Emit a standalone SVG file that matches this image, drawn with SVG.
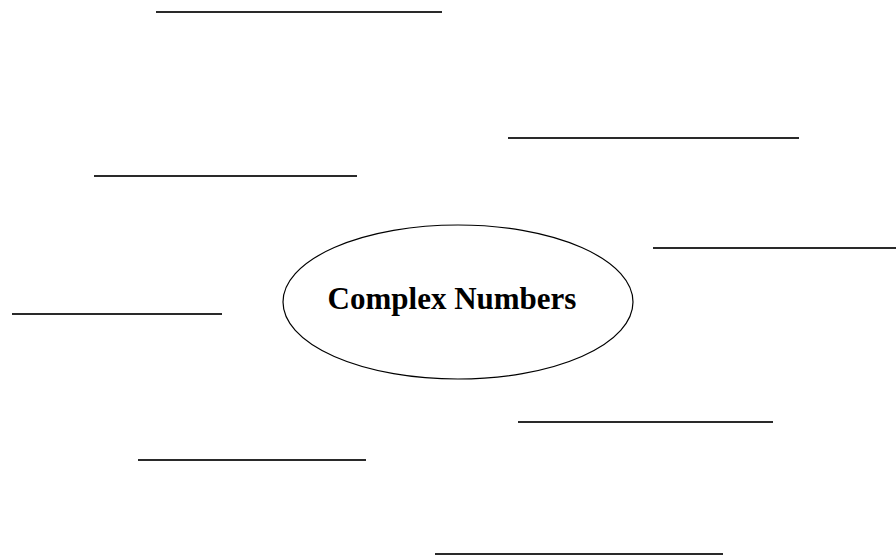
<svg xmlns="http://www.w3.org/2000/svg" width="896" height="557" viewBox="0 0 896 557">
<style>
.blank{stroke:#2a2a2a;stroke-width:2;fill:none}
.oval{stroke:#000;stroke-width:1.2;fill:#fff}
.title{font-family:"Liberation Serif","Times New Roman",serif;font-weight:bold;font-size:31px;fill:#000}
</style>
<rect width="896" height="557" fill="#fff"/>
<g id="connectors">
<line class="blank" x1="156" y1="12" x2="442" y2="12"/>
<line class="blank" x1="508" y1="138" x2="799" y2="138"/>
<line class="blank" x1="94" y1="176" x2="357" y2="176"/>
<line class="blank" x1="653" y1="248" x2="896" y2="248"/>
<line class="blank" x1="12" y1="314" x2="222" y2="314"/>
<line class="blank" x1="518" y1="422" x2="773" y2="422"/>
<line class="blank" x1="138" y1="460" x2="366" y2="460"/>
<line class="blank" x1="435" y1="554" x2="723" y2="554"/>
</g>
<g id="center">
<ellipse class="oval" cx="458" cy="302" rx="175" ry="77"/>
<text class="title" x="452" y="309" text-anchor="middle">Complex Numbers</text>
</g>
</svg>
